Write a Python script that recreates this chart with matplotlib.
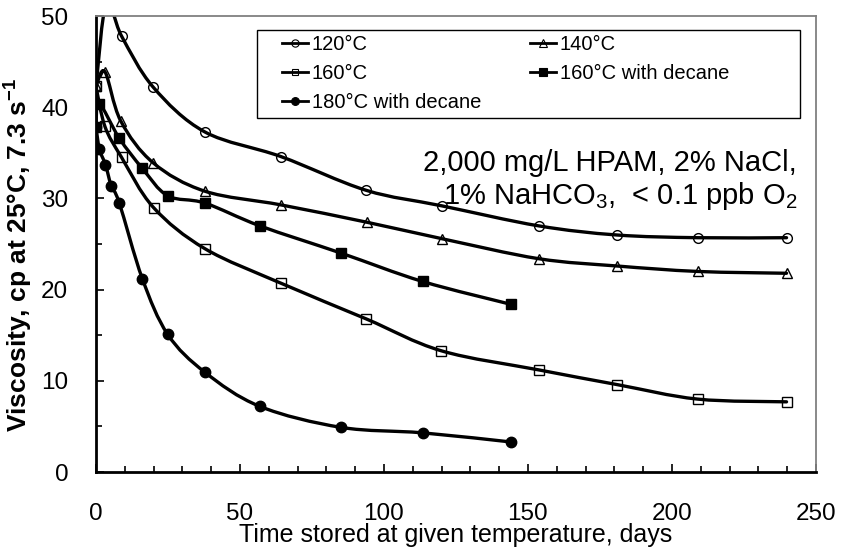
import numpy as np
import matplotlib.pyplot as plt
from matplotlib.path import Path
from matplotlib.patches import PathPatch, Rectangle
from matplotlib.lines import Line2D

plt.rcParams['font.family'] = ['Liberation Sans', 'DejaVu Sans']

# days stored / viscosity (cp)
days_120 = [0, 3.6, 8.9, 19.9, 37.8, 64.2, 93.8, 120.0, 153.7, 180.8, 208.9, 239.8]
visc_120 = [42.3, 51.5, 47.8, 42.2, 37.3, 34.6, 30.9, 29.2, 27.0, 26.0, 25.7, 25.7]

days_140 = [0, 3.1, 8.6, 19.9, 37.8, 64.2, 94.0, 120.0, 153.7, 180.8, 208.9, 239.8]
visc_140 = [42.3, 43.9, 38.5, 33.9, 30.8, 29.3, 27.4, 25.6, 23.4, 22.6, 22.0, 21.8]

days_160 = [0, 3.1, 8.9, 20.0, 37.8, 64.3, 93.8, 119.9, 153.8, 180.8, 208.9, 239.8]
visc_160 = [42.3, 37.9, 34.5, 29.0, 24.5, 20.7, 16.8, 13.3, 11.2, 9.6, 8.0, 7.7]

days_160d = [0, 1.1, 8.1, 16.1, 24.9, 37.8, 56.9, 85.2, 113.4, 144.0]
visc_160d = [37.8, 40.4, 36.6, 33.3, 30.3, 29.5, 27.0, 24.0, 20.9, 18.4]

days_180d = [0, 1.2, 3.3, 5.3, 8.1, 16.1, 24.9, 37.8, 56.9, 85.1, 113.4, 144.0]
visc_180d = [37.8, 35.4, 33.7, 31.4, 29.5, 21.2, 15.1, 10.95, 7.2, 4.9, 4.3, 3.3]

labels = ["120°C", "140°C", "160°C", "160°C with decane", "180°C with decane"]


def smooth_path(xs, ys):
    # excel-style smoothed line (catmull-rom as cubic bezier)
    pts = np.column_stack([xs, ys]).astype(float)
    verts = [pts[0]]
    codes = [Path.MOVETO]
    n = len(pts)
    for i in range(n - 1):
        p0 = pts[i - 1] if i > 0 else pts[i]
        p1 = pts[i]
        p2 = pts[i + 1]
        p3 = pts[i + 2] if i + 2 < n else pts[i + 1]
        verts += [p1 + (p2 - p0) / 6, p2 - (p3 - p1) / 6, p2]
        codes += [Path.CURVE4] * 3
    return Path(verts, codes)


fig = plt.figure(figsize=(8.42, 5.56), dpi=100)
ax = fig.add_axes([0.114, 0.151, 0.855, 0.820])

series = [
    (days_120, visc_120, dict(marker='o', mfc='none', ms=7)),
    (days_140, visc_140, dict(marker='^', mfc='none', ms=7)),
    (days_160, visc_160, dict(marker='s', mfc='none', ms=6.5)),
    (days_160d, visc_160d, dict(marker='s', mfc='black', ms=7.5)),
    (days_180d, visc_180d, dict(marker='o', mfc='black', ms=7.5)),
]

handles = []
for (xs, ys, mk), lab in zip(series, labels):
    ax.add_patch(PathPatch(smooth_path(xs, ys), fill=False, lw=2.4,
                           ec='black', zorder=2, capstyle='round'))
    ax.plot(xs, ys, ls='none', mec='black', mew=1.0, zorder=3, **mk)
    handles.append(Line2D([], [], color='black', lw=2.0, mec='black', mew=0.8,
                          label=lab, marker=mk['marker'], mfc=mk['mfc'],
                          ms=mk['ms'] * 0.75))

ax.set_xlim(0, 250)
ax.set_ylim(0, 50)
ax.set_xticks(np.arange(0, 251, 50))
ax.set_xticks(np.arange(0, 251, 10), minor=True)
ax.set_yticks(np.arange(0, 51, 10))
ax.set_yticks(np.arange(0, 51, 5), minor=True)
ax.tick_params(which='both', direction='in', top=False, right=False,
               width=1.2, labelsize=17.5)
ax.tick_params(axis='x', which='major', length=6, pad=22)
ax.tick_params(axis='x', which='minor', length=4)
ax.tick_params(axis='y', which='major', length=6, pad=20)
ax.tick_params(axis='y', which='minor', length=4)

for s in ['left', 'bottom']:
    ax.spines[s].set_linewidth(2)
    ax.spines[s].set_color('black')
for s in ['top', 'right']:
    ax.spines[s].set_linewidth(1.3)
    ax.spines[s].set_color('#808080')

ax.set_xlabel("Time stored at given temperature, days", fontsize=18, labelpad=-1)
ax.set_ylabel("Viscosity, cp at 25°C, 7.3 s$^{\\mathregular{-1}}$", fontsize=19,
              fontweight='bold')
ax.yaxis.set_label_coords(-0.086, 0.476)

ax.text(0.974, 0.64, "2,000 mg/L HPAM, 2% NaCl,\n"
        "1% NaHCO$_\\mathregular{3}$,  < 0.1 ppb O$_\\mathregular{2}$",
        transform=ax.transAxes, ha='right', va='center', fontsize=21,
        linespacing=1.12)

# legend box drawn separately so the entries can sit inside with wide side margins
ax.add_patch(Rectangle((0.224, 0.776), 0.754, 0.194, transform=ax.transAxes,
                       fill=True, fc='white', ec='black', lw=1.0, zorder=4))
order = [0, 2, 4, 1, 3]
leg = ax.legend([handles[i] for i in order], [labels[i] for i in order],
                ncol=2, loc='upper left', bbox_to_anchor=(0.258, 0.958),
                fontsize=14.5, frameon=False, handlelength=1.3,
                handletextpad=0.2, labelspacing=0.5, columnspacing=2.4,
                borderpad=0, borderaxespad=0)
leg.set_zorder(5)

fig.savefig("out.png", dpi=100)
